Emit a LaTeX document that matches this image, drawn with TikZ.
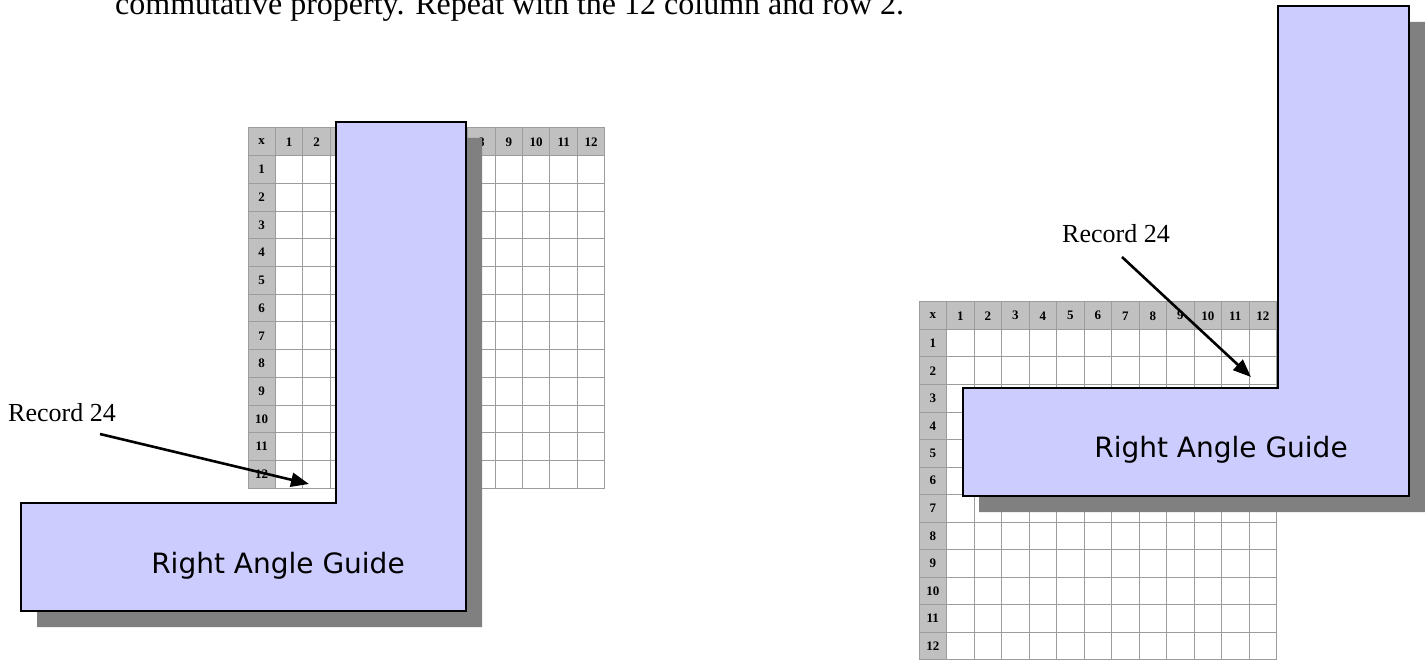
\documentclass[tikz,border=0pt]{standalone}
\usepackage{fontspec}
\setmainfont{Liberation Serif}
\newfontfamily\guidefont{DejaVu Sans}
\usetikzlibrary{arrows.meta}
\definecolor{guidefill}{HTML}{CCCCFF}
\definecolor{shadowgray}{HTML}{808080}
\definecolor{hdrgray}{HTML}{C0C0C0}
\definecolor{gridgray}{HTML}{9C9C9C}
\newcommand\mtable[5]{% x0, y0, cell width, cell height, name prefix
  \fill[hdrgray] (#1,#2) rectangle ({#1+13*#3},{#2+#4});
  \fill[hdrgray] (#1,#2) rectangle ({#1+#3},{#2+13*#4});
  \foreach \i in {0,...,13} {
    \draw[gridline] ({#1+\i*#3},#2) -- ({#1+\i*#3},{#2+13*#4});
    \draw[gridline] (#1,{#2+\i*#4}) -- ({#1+13*#3},{#2+\i*#4});
  }
  \node[tablbl] (#5x) at ({#1+0.5*#3},{#2+0.5*#4}) {x};
  \foreach \j in {1,...,12} {
    \node[tablbl] (#5c\j) at ({#1+(\j+0.5)*#3},{#2+0.5*#4}) {\j};
    \node[tablbl] (#5r\j) at ({#1+0.5*#3},{#2+(\j+0.5)*#4}) {\j};
  }
}
\begin{document}
\begin{tikzpicture}[x=1pt,y=-1pt,
  gridline/.style={draw=gridgray,line width=1pt},
  tablbl/.style={inner sep=0pt,font=\fontsize{13}{15}\selectfont\bfseries},
  guideshadow/.style={fill=shadowgray,draw=none},
  guidebody/.style={fill=guidefill,draw=black,line width=1.8pt,line join=miter},
  guidetext/.style={inner sep=0pt,anchor=base,font=\guidefont\fontsize{28}{32}\selectfont},
  rectext/.style={inner sep=0pt,anchor=base west,font=\fontsize{26}{30}\selectfont},
  pointer/.style={draw=black,line width=2.6pt,-{Triangle[length=18pt,width=14pt]}}]
\useasboundingbox (0,0) rectangle (1425,660);
\clip (0,0) rectangle (1425,660);
\fill[white] (0,0) rectangle (1425,660);

% top text (cut at the top, as in the reference)
\node[inner sep=0pt,anchor=base west,font=\fontsize{32}{36}\selectfont] (title) at (115,15)
  {commutative property. Repeat with the 12 column and row 2.};

% tables
\mtable{248}{128}{27.45}{27.7}{L}
\mtable{919}{302}{27.5}{27.5}{R}

% left guide
\fill[guideshadow] (352,138) -- (482,138) -- (482,627) -- (37,627) -- (37,519) -- (352,519) -- cycle;
\draw[guidebody] (336,122) -- (466,122) -- (466,611) -- (21,611) -- (21,503) -- (336,503) -- cycle;
\node[guidetext] (lguide) at (278,573) {Right Angle Guide};

% right guide
\fill[guideshadow] (1294,22) -- (1425,22) -- (1425,512) -- (979,512) -- (979,404) -- (1294,404) -- cycle;
\draw[guidebody] (1278,6) -- (1409,6) -- (1409,496) -- (963,496) -- (963,388) -- (1278,388) -- cycle;
\node[guidetext] (rguide) at (1221,457) {Right Angle Guide};

% labels and arrows
\node[rectext] (lrec) at (8,421) {Record 24};
\coordinate (lfrom) at (100,434);
\coordinate (lto) at (309,484);
\draw[pointer] (lfrom) -- (lto);

\node[rectext] (rrec) at (1062,243) {Record 24};
\coordinate (rfrom) at (1122,257);
\coordinate (rto) at (1251,377);
\draw[pointer] (rfrom) -- (rto);
\end{tikzpicture}
\end{document}
